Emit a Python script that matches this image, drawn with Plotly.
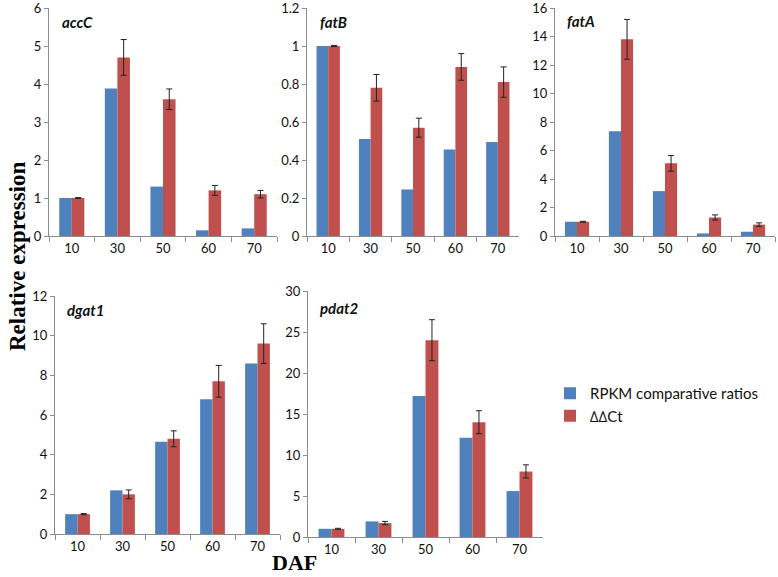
import plotly.graph_objects as go

W, H = 778, 577

categories = ["10", "30", "50", "60", "70"]

genes = ["accC", "fatB", "fatA", "dgat1", "pdat2"]

rpkm = {
    "accC": [1.0, 3.88, 1.3, 0.15, 0.2],
    "fatB": [1.0, 0.51, 0.245, 0.455, 0.495],
    "fatA": [1.0, 7.35, 3.15, 0.18, 0.3],
    "dgat1": [1.0, 2.2, 4.65, 6.8, 8.6],
    "pdat2": [1.0, 1.9, 17.2, 12.1, 5.6],
}
ddct = {
    "accC": [1.0, 4.7, 3.6, 1.2, 1.1],
    "fatB": [1.0, 0.78, 0.57, 0.89, 0.81],
    "fatA": [1.0, 13.8, 5.1, 1.3, 0.8],
    "dgat1": [1.0, 2.0, 4.8, 7.7, 9.6],
    "pdat2": [1.0, 1.7, 24.0, 14.0, 8.0],
}
ddct_err = {
    "accC": [0.01, 0.47, 0.27, 0.13, 0.1],
    "fatB": [0.003, 0.07, 0.05, 0.07, 0.08],
    "fatA": [0.03, 1.4, 0.55, 0.18, 0.12],
    "dgat1": [0.03, 0.22, 0.4, 0.8, 1.0],
    "pdat2": [0.06, 0.2, 2.5, 1.4, 0.8],
}
y_max = {"accC": 6, "fatB": 1.2, "fatA": 16, "dgat1": 12, "pdat2": 30}
y_dtick = {"accC": 1, "fatB": 0.2, "fatA": 2, "dgat1": 2, "pdat2": 5}

series_names = ["RPKM comparative ratios", "\u2206\u2206Ct"]
BLUE = "#4F81BD"
RED = "#C0504D"

# pixel boxes (left, right, top, bottom)
boxes = {
    "accC": (49, 277, 8, 236),
    "fatB": (307, 519, 8, 236),
    "fatA": (555, 775, 8, 236),
    "dgat1": (55, 280, 296, 534),
    "pdat2": (308, 543, 291, 537),
}
label_pos = {
    "accC": (60, 22),
    "fatB": (318, 22),
    "fatA": (565, 21),
    "dgat1": (65, 310),
    "pdat2": (318, 308),
}

tick_font = dict(family="Lato, 'Open Sans', sans-serif", size=13, color="#111")
axis_col = "#8c8c8c"

fig = go.Figure()
layout = {}
annotations = []
for i, g in enumerate(genes):
    n = "" if i == 0 else str(i + 1)
    xa, ya = "x" + n, "y" + n
    l, r, t, b = boxes[g]
    fig.add_trace(go.Bar(
        x=categories, y=rpkm[g], name=series_names[0], marker_color=BLUE,
        marker_line_width=0, xaxis=xa, yaxis=ya, showlegend=(i == 0),
        legendgroup="a", offsetgroup="a"))
    fig.add_trace(go.Bar(
        x=categories, y=ddct[g], name=series_names[1], marker_color=RED,
        marker_line_width=0, xaxis=xa, yaxis=ya, showlegend=(i == 0),
        legendgroup="b", offsetgroup="b",
        error_y=dict(type="data", array=ddct_err[g], color="#222",
                     thickness=1, width=3)))
    layout["xaxis" + n] = dict(
        domain=[l / W, r / W], anchor=ya, type="category", automargin=False,
        showline=True, linecolor=axis_col, linewidth=1,
        ticks="outside", tickson="boundaries", ticklen=5, tickcolor=axis_col,
        tickfont=tick_font, showgrid=False, zeroline=False, fixedrange=True,
        ticklabeloverflow="allow")
    layout["yaxis" + n] = dict(
        domain=[1 - b / H, 1 - t / H], anchor=xa, range=[0, y_max[g]],
        automargin=False, ticklabeloverflow="allow",
        dtick=y_dtick[g], showline=True, linecolor=axis_col, linewidth=1,
        ticks="outside", ticklen=4, tickcolor=axis_col, tickfont=tick_font,
        showgrid=False, zeroline=False, fixedrange=True)
    lx, ly = label_pos[g]
    annotations.append(dict(
        text="<b><i>%s</i></b>" % g, x=lx / W, y=1 - ly / H, xref="paper",
        yref="paper", xanchor="left", yanchor="middle", showarrow=False,
        font=dict(family="Lato, 'Open Sans', sans-serif", size=15, color="#111")))

annotations.append(dict(
    text="<b>Relative expression</b>", x=17 / W, y=1 - 256 / H, xref="paper",
    yref="paper", xanchor="center", yanchor="middle", showarrow=False,
    textangle=-90,
    font=dict(family="'Liberation Serif', 'Times New Roman', serif", size=23,
              color="#000")))
annotations.append(dict(
    text="<b>DAF</b>", x=294 / W, y=0, xref="paper", yref="paper",
    xanchor="center", yanchor="bottom", showarrow=False,
    font=dict(family="'Liberation Serif', 'Times New Roman', serif", size=22,
              color="#000")))

fig.update_layout(
    **layout,
    annotations=annotations,
    width=W, height=H,
    margin=dict(l=0, r=0, t=0, b=0, autoexpand=False),
    paper_bgcolor="white", plot_bgcolor="white",
    barmode="group", bargap=0.45, bargroupgap=0,
    legend=dict(x=550 / W, y=1 - 377 / H, xanchor="left", yanchor="top",
                font=dict(family="Lato, 'Open Sans', sans-serif", size=15,
                          color="#111"),
                itemwidth=30, tracegroupgap=0, bgcolor="rgba(0,0,0,0)"),
    showlegend=True,
)

fig.write_html("out.html", config={"displayModeBar": False},
               post_script="document.body.style.margin='0px';document.body.style.overflow='hidden';")
